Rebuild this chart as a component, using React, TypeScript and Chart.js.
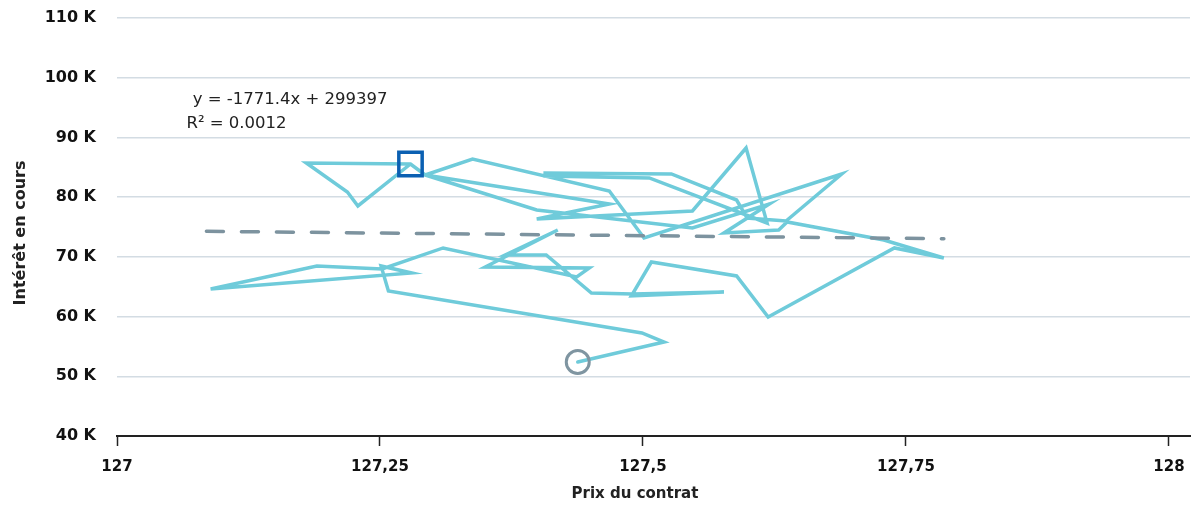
import { useEffect, useRef } from "react";
import { Chart, registerables } from "chart.js";

Chart.register(...registerables);

// Contract price (x) vs open interest in thousands (y), in chronological order
const PATH_X = [
  127.438, 127.52, 127.499, 127.258, 127.251, 127.28, 127.089, 127.19, 127.252, 127.31,
  127.437, 127.449, 127.35, 127.419, 127.369, 127.408, 127.451, 127.49, 127.577, 127.489,
  127.508, 127.589, 127.619, 127.739, 127.786, 127.729, 127.637, 127.629, 127.577, 127.62,
  127.547, 127.399, 127.293, 127.468, 127.399, 127.547, 127.598, 127.618, 127.506, 127.407,
  127.407, 127.527, 127.589, 127.599, 127.636, 127.689, 127.501, 127.468, 127.338, 127.293,
  127.279, 127.18, 127.219, 127.229, 127.279,
];
const PATH_Y = [
  52.39, 55.74, 57.25, 64.28, 68.47, 67.3, 64.62, 68.47, 67.97, 71.49,
  66.63, 68.14, 68.3, 74.5, 70.31, 70.31, 63.95, 63.78, 64.12, 63.45,
  69.14, 66.8, 59.93, 71.49, 69.81, 72.83, 75.84, 74.5, 74.0, 78.85,
  74.83, 77.85, 83.71, 78.85, 76.34, 77.68, 88.23, 75.67, 83.21, 83.54,
  84.05, 83.88, 79.52, 76.51, 76.01, 83.88, 73.16, 81.03, 86.39, 83.71,
  85.55, 85.72, 80.86, 78.52, 85.55,
];

const TREND_X = [127.085, 127.786];
const TREND_Y = [74.28, 73.04];

const X_TICKS = [127, 127.25, 127.5, 127.75, 128];
const X_TICK_LABELS = ["127", "127,25", "127,5", "127,75", "128"];
const Y_TICKS = [40, 50, 60, 70, 80, 90, 100, 110];
const Y_TICK_LABELS = ["40 K", "50 K", "60 K", "70 K", "80 K", "90 K", "100 K", "110 K"];

const EQUATION_LINES = ["y = -1771.4x + 299397", "R² = 0.0012"];
const EQUATION_X = [127.072, 127.066];
const EQUATION_Y = [96.3, 92.3];

const X_TITLE = "Prix du contrat";
const Y_TITLE = "Intérêt en cours";

const FONT = '"DejaVu Sans", sans-serif';

const textPlugin = {
  id: "extraText",
  afterDatasetsDraw(chart: any) {
    const { ctx, scales, chartArea } = chart;
    const xs = scales.x;
    const ys = scales.y;
    ctx.save();
    ctx.font = `16.5px ${FONT}`;
    ctx.fillStyle = "#222222";
    ctx.textAlign = "left";
    ctx.textBaseline = "middle";
    EQUATION_LINES.forEach((t, i) => {
      ctx.fillText(t, xs.getPixelForValue(EQUATION_X[i]), ys.getPixelForValue(EQUATION_Y[i]));
    });
    // x-axis title centred under the tick span
    ctx.font = `bold 15px ${FONT}`;
    ctx.textAlign = "center";
    const cx = (xs.getPixelForValue(X_TICKS[0]) + xs.getPixelForValue(X_TICKS[X_TICKS.length - 1])) / 2;
    ctx.fillText(X_TITLE, cx - 8, chart.height - 12);
    // y-axis title
    ctx.font = `bold 16px ${FONT}`;
    ctx.translate(21, (chartArea.top + chartArea.bottom) / 2 + 6);
    ctx.rotate(-Math.PI / 2);
    ctx.fillText(Y_TITLE, 0, 0);
    ctx.restore();
  },
};

export default function App() {
  const ref = useRef<HTMLCanvasElement | null>(null);

  useEffect(() => {
    if (!ref.current) return;
    const n = PATH_X.length;
    const pathData = PATH_X.map((x, i) => ({ x, y: PATH_Y[i] }));
    const trendData = TREND_X.map((x, i) => ({ x, y: TREND_Y[i] }));

    const chart = new Chart(ref.current, {
      type: "scatter",
      data: {
        datasets: [
          {
            label: "fin",
            data: [{ x: PATH_X[n - 1], y: PATH_Y[n - 1] }],
            pointStyle: "rect",
            pointRadius: 16.5,
            pointBorderWidth: 3.5,
            pointBorderColor: "#0B60B2",
            pointBackgroundColor: "rgba(0,0,0,0)",
            showLine: false,
          } as any,
          {
            label: "début",
            data: [{ x: PATH_X[0], y: PATH_Y[0] }],
            pointStyle: "circle",
            pointRadius: 11.5,
            pointBorderWidth: 3,
            pointBorderColor: "#7F95A1",
            pointBackgroundColor: "rgba(0,0,0,0)",
            showLine: false,
          } as any,
          {
            label: "tendance",
            data: trendData,
            showLine: true,
            borderColor: "#7D939F",
            borderWidth: 3.5,
            borderDash: [17, 18],
            borderCapStyle: "round",
            pointRadius: 0,
            fill: false,
          } as any,
          {
            label: "trajet",
            data: pathData,
            showLine: true,
            borderColor: "#6FCBDA",
            borderWidth: 3.5,
            borderCapStyle: "round",
            borderJoinStyle: "miter",
            pointRadius: 0,
            tension: 0,
            fill: false,
          } as any,
        ],
      },
      options: {
        animation: false,
        responsive: true,
        maintainAspectRatio: false,
        layout: { autoPadding: false, padding: { top: 18, right: 1, left: 0, bottom: 0 } },
        plugins: {
          legend: { display: false },
          tooltip: { enabled: false },
        },
        scales: {
          x: {
            type: "linear",
            min: 127,
            max: 128.02,
            afterBuildTicks: (s: any) => {
              s.ticks = X_TICKS.map((v) => ({ value: v }));
            },
            afterFit: (s: any) => {
              s.height = 70;
              s.paddingLeft = 0;
              s.paddingRight = 0;
            },
            ticks: {
              autoSkip: false,
              maxRotation: 0,
              padding: 12,
              color: "#111111",
              font: { family: FONT, size: 15, weight: "bold" },
              callback: (v: any) => {
                const i = X_TICKS.indexOf(Number(v));
                return i >= 0 ? X_TICK_LABELS[i] : "";
              },
            },
            grid: {
              drawOnChartArea: false,
              drawTicks: true,
              tickLength: 10,
              tickColor: "#222222",
              tickWidth: 1.5,
            },
            border: { display: true, color: "#222222", width: 2 },
            title: { display: false },
          },
          y: {
            type: "linear",
            min: 40,
            max: 110,
            afterBuildTicks: (s: any) => {
              s.ticks = Y_TICKS.map((v) => ({ value: v }));
            },
            afterFit: (s: any) => {
              s.width = 117;
              s.paddingTop = 0;
              s.paddingBottom = 0;
            },
            ticks: {
              padding: 21,
              color: "#111111",
              font: { family: FONT, size: 16, weight: "bold" },
              callback: (v: any) => {
                const i = Y_TICKS.indexOf(Number(v));
                return i >= 0 ? Y_TICK_LABELS[i] : "";
              },
            },
            grid: {
              color: "#D3DCE3",
              lineWidth: 1.5,
              drawTicks: false,
            },
            border: { display: false },
            title: { display: false },
          },
        },
      } as any,
      plugins: [textPlugin],
    });
    return () => chart.destroy();
  }, []);

  return (
    <div style={{ position: "fixed", left: 0, top: 0, width: 1191, height: 506, background: "#ffffff" }}>
      <canvas ref={ref} />
    </div>
  );
}
